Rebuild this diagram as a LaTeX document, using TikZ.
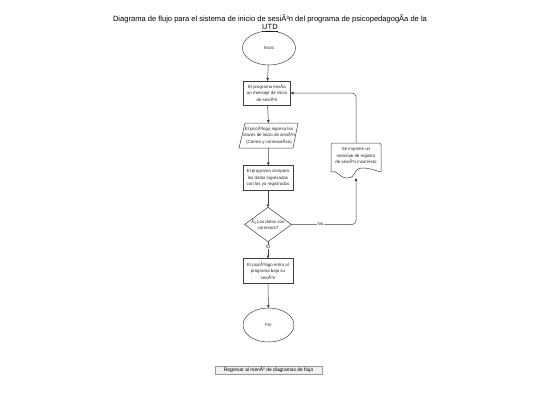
\documentclass[tikz,border=0pt]{standalone}
\usepackage{fontspec}
\setmainfont{Liberation Sans}
\usetikzlibrary{shapes.geometric,arrows.meta}
\begin{document}
\begin{tikzpicture}[x=1pt,y=-1pt,
  every node/.style={inner sep=0pt,outer sep=0pt},
  ln/.style={draw=black!75,line width=0.5pt},
  conn/.style={ln,-{Triangle[length=3pt,width=2.6pt]}},
  tx/.style={font=\fontsize{4.4}{6.2}\selectfont,align=center,text=black!85},
  term/.style={ellipse,ln,tx,minimum width=53pt,minimum height=34pt},
  procbox/.style={rectangle,ln,tx,minimum width=50pt,minimum height=25pt},
  dec/.style={diamond,ln,tx,minimum width=45pt,minimum height=33pt,aspect=1.36},
  lbl/.style={tx,fill=white,inner sep=0.5pt}]
\useasboundingbox (0,0) rectangle (540,405);
\fill[white] (0,0) rectangle (540,405);
% title
\node[font=\fontsize{7.55}{7.6}\selectfont,align=center] (title) at (270,23.5)
  {Diagrama de flujo para el sistema de inicio de sesiÃ³n del programa de psicopedagogÃa de la\\\underline{UTD}};
% nodes
\node[term] (inicio) at (269,48) {Inicio};
\node[procbox,minimum width=47pt,minimum height=24pt] (b1) at (267,93) {El programa envÃa\\un mensaje de inicio\\de sesiÃ³n};
% parallelogram (input)
\node[rectangle,minimum width=58pt,minimum height=25pt] (p1) at (269,135.5) {};
\draw[ln] ([xshift=5pt]p1.north west) -- ([xshift=0pt]p1.north east) -- ([xshift=-5pt]p1.south east) -- ([xshift=-1pt]p1.south west) -- cycle;
\node[tx] (p1text) at (269,135.5) {El psicÃ³logo ingresa las\\claves de inicio de sesiÃ³n\\(Correo y contraseÃ±a)};
\node[procbox] (b3) at (268,178) {El programa compara\\los datos ingresados\\con los ya registrados};
\node[dec] (d1) at (268,224.5) {Â¿Los datos son\\correctos?};
\node[procbox] (b4) at (268,271) {El psicÃ³logo entra al\\programa bajo su\\sesiÃ³n};
\node[term,minimum width=51pt] (fin) at (268.5,325) {Fin};
% document shape
\node[rectangle,minimum width=50pt,minimum height=35pt] (doc) at (356,160.5) {};
\draw[ln,rounded corners=1.5pt] ([yshift=6pt]doc.south west) -- (doc.north west) -- (doc.north east) -- ([yshift=6pt]doc.south east);
\draw[ln] ([yshift=6pt]doc.south east) .. controls +(-8,-2) and +(8,0) .. ([xshift=-19pt,yshift=10pt]doc.south east)
  .. controls +(-9,0) and +(10,0) .. ([xshift=16pt,yshift=0pt]doc.south west)
  .. controls +(-8,0) and +(6,-3) .. ([yshift=6pt]doc.south west);
\node[tx] (doctext) at (356,155.5) {Se imprime un\\mensaje de registro\\de sesiÃ³n incorrecto};
% connectors
\draw[conn] (inicio) -- (b1);
\draw[conn] (b1) -- (p1);
\draw[conn] (p1) -- (b3);
\draw[conn] (b3) -- (d1);
\draw[conn] (d1) -- node[lbl,pos=0.3] {Sí} (b4);
\draw[conn] (b4) -- (fin);
\draw[conn,rounded corners=4pt] (d1.east) -- node[lbl,pos=0.45] {No} (d1.east -| doc.south) -- (doc.south);
\draw[conn,rounded corners=4pt] (doc.north) -- (doc.north |- b1.east) -- (b1.east);
% button
\node[rectangle,draw=black!40,fill=black!6,line width=0.4pt,minimum width=107pt,minimum height=8pt,font=\fontsize{4.9}{5}\selectfont] (btn) at (268.5,370)
  {Regresar al menÃº de diagramas de flujo};
\end{tikzpicture}
\end{document}
